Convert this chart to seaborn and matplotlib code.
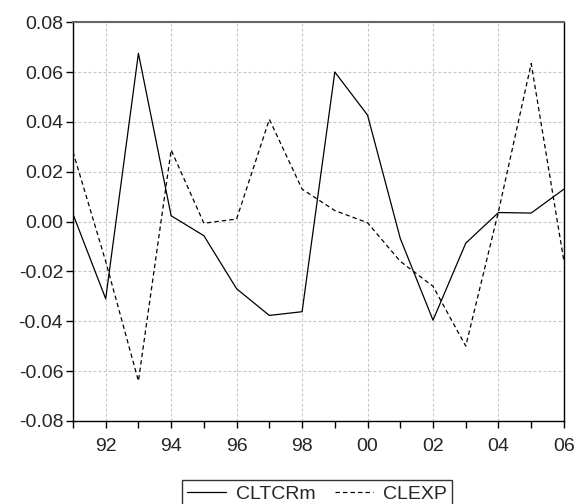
import pandas as pd
import seaborn as sns
import matplotlib.pyplot as plt
from matplotlib.ticker import MultipleLocator, FuncFormatter

# Annual values
years = list(range(1991, 2007))
cltcrm = [0.003, -0.031, 0.0675, 0.0023, -0.0057, -0.027, -0.0377, -0.0362,
          0.060, 0.0427, -0.0068, -0.0396, -0.0087, 0.0036, 0.0034, 0.013]
clexp = [0.028, -0.016, -0.064, 0.0287, -0.0007, 0.001, 0.041, 0.013,
         0.0044, -0.0005, -0.016, -0.026, -0.050, 0.004, 0.0634, -0.016]

df = pd.DataFrame({"year": years, "CLTCRm": cltcrm, "CLEXP": clexp})

sns.set_style("white")
plt.rcParams["font.family"] = ["Liberation Sans", "DejaVu Sans"]
plt.rcParams["axes.unicode_minus"] = False

fig = plt.figure(figsize=(5.79, 5.04), dpi=100)
ax = fig.add_axes([0.126, 0.165, 0.848, 0.791])

sns.lineplot(data=df, x="year", y="CLTCRm", ax=ax, color="black",
             linewidth=0.9, label="CLTCRm")
sns.lineplot(data=df, x="year", y="CLEXP", ax=ax, color="black",
             linewidth=0.9, dashes=False, label="CLEXP")
ax.lines[1].set_dashes((3.5, 2.5))

ax.set_xlim(1991, 2006)
ax.set_ylim(-0.08, 0.08)
ax.yaxis.set_major_locator(MultipleLocator(0.02))
ax.yaxis.set_major_formatter(FuncFormatter(lambda v, p: f"{v:.2f}"))
ax.set_xticks(list(range(1992, 2007, 2)))
ax.set_xticks(years, minor=True)
ax.xaxis.set_major_formatter(FuncFormatter(lambda v, p: f"{int(v) % 100:02d}"))

ax.grid(True, which="major", color="#c4c4c4", linestyle=(0, (2.5, 2)),
        linewidth=0.8)
ax.set_xlabel("")
ax.set_ylabel("")

for side in ["left", "bottom", "right"]:
    ax.spines[side].set_color("black")
    ax.spines[side].set_linewidth(1.0)
ax.spines["top"].set_color("#666666")
ax.spines["top"].set_linewidth(1.5)

ax.tick_params(axis="y", which="major", direction="out", length=5, width=1,
               color="black", pad=2, labelsize=14, left=True)
ax.tick_params(axis="x", which="both", direction="out", length=5, width=1,
               color="black", pad=7, labelsize=14, bottom=True)

ax.get_legend().remove()
handles, labels = ax.get_legend_handles_labels()
leg = fig.legend(handles, labels, loc="upper center",
                 bbox_to_anchor=(0.5475, 0.066), ncol=2, frameon=True,
                 fancybox=False, edgecolor="black", fontsize=14,
                 handlelength=2.0, handletextpad=0.5, columnspacing=1.0,
                 borderpad=0.25)
leg.get_frame().set_linewidth(1.0)

plt.savefig("out.png", dpi=100)
